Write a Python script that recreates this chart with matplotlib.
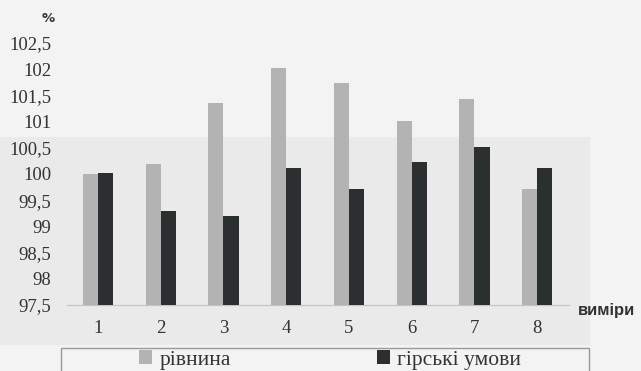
import matplotlib
matplotlib.use("Agg")
import matplotlib.pyplot as plt
from matplotlib.patches import Rectangle
from matplotlib.font_manager import FontProperties

# Виміри та відносні показники, %
vymiry = [1, 2, 3, 4, 5, 6, 7, 8]
rivnyna = [100.0, 100.2, 101.35, 102.02, 101.73, 101.02, 101.43, 99.71]
girski = [100.02, 99.3, 99.2, 100.12, 99.71, 100.23, 100.52, 100.12]
y_ticks = [97.5, 98, 98.5, 99, 99.5, 100, 100.5, 101, 101.5, 102, 102.5]
y_labels = ["97,5", "98", "98,5", "99", "99,5", "100", "100,5", "101", "101,5", "102", "102,5"]

W, H = 641, 371
serif = "Liberation Serif"

fig = plt.figure(figsize=(W / 100, H / 100), dpi=100, facecolor="#f3f3f4")

# трохи темніша смуга фону
fig.patches.append(Rectangle((0, (H - 345) / H), 590 / W, (345 - 137) / H,
                             transform=fig.transFigure, facecolor="#eaeaea",
                             edgecolor="none", zorder=-10))

ax = fig.add_axes([66.6 / W, (H - 305) / H, 502 / W, 262 / H], zorder=1)
ax.set_facecolor("none")

w = 0.24
x = list(vymiry)
b1 = ax.bar([v - w / 2 for v in x], [v - 97.5 for v in rivnyna], w, bottom=97.5,
            color="#b3b3b3", label="рівнина", zorder=3)
b2 = ax.bar([v + w / 2 for v in x], [v - 97.5 for v in girski], w, bottom=97.5,
            color="#2b2f2f", label="гірські умови", zorder=3)

ax.set_xlim(0.5, 8.5)
ax.set_ylim(97.5, 102.5)
ax.set_yticks(y_ticks)
ax.set_yticklabels(y_labels, family=serif, fontsize=13.5, color="#333333")
ax.set_xticks(x)
ax.set_xticklabels([str(v) for v in vymiry], family=serif, fontsize=13.5, color="#333333")
ax.tick_params(axis="y", length=0, pad=11)
ax.tick_params(axis="x", length=0, pad=11)

# слабкі допоміжні лінії
ax.set_yticks([98.5, 99.5], minor=True)
ax.tick_params(axis="y", which="minor", length=0)
ax.grid(axis="y", which="minor", color="#d6d6d6", linewidth=0.8, zorder=1)

for s in ["top", "right", "left"]:
    ax.spines[s].set_visible(False)
ax.spines["bottom"].set_color("#c4c4c4")
ax.spines["bottom"].set_linewidth(0.9)

fig.text(48 / W, 1 - 19 / H, "%", ha="center", va="center",
         fontsize=9.5, fontweight="bold", color="#333333", family="DejaVu Sans")
fig.text(578 / W, 1 - 310 / H, "виміри", ha="left", va="center",
         fontsize=12, fontweight="bold", color="#333333", family="Liberation Sans")

# рамка легенди
fig.patches.append(Rectangle((61 / W, -0.02), 528 / W, (H - 348) / H + 0.02,
                             transform=fig.transFigure, facecolor="none",
                             edgecolor="#9a9a9a", linewidth=1.0, zorder=2))
leg_font = FontProperties(family=serif, size=15.5)
leg = fig.legend(handles=[b1, b2], loc="center left", ncol=2, frameon=False,
                 bbox_to_anchor=(128 / W, 1 - 360 / H), prop=leg_font,
                 handlelength=0.6, handleheight=0.6, handletextpad=0.35,
                 columnspacing=6.8, borderpad=0)
for t in leg.get_texts():
    t.set_fontfamily(serif)
    t.set_color("#333333")

fig.savefig("out.png", dpi=100, facecolor=fig.get_facecolor())
